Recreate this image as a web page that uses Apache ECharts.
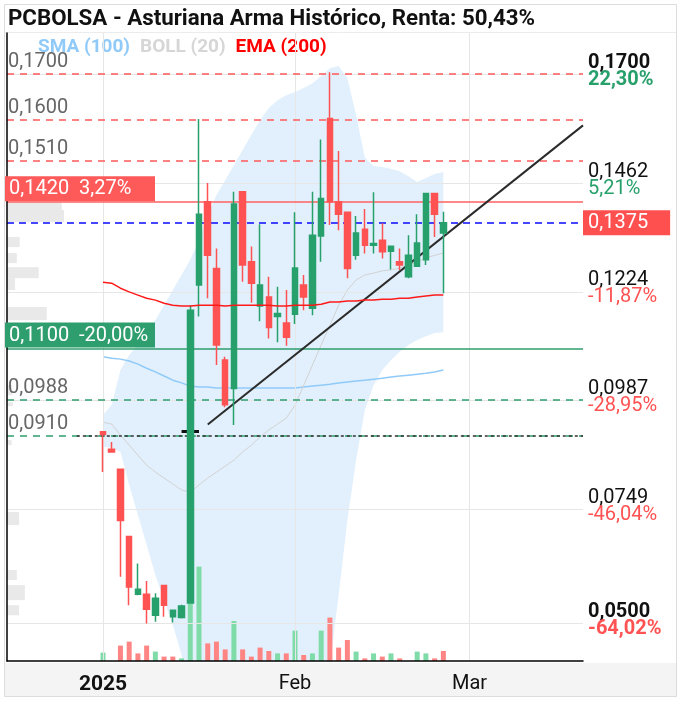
<!DOCTYPE html>
<html><head><meta charset="utf-8">
<script src="https://cdn.jsdelivr.net/npm/echarts@6/dist/echarts.min.js"></script>
<style>html,body{margin:0;padding:0;background:#fff}#c{width:681px;height:701px}</style>
</head><body><div id="c"></div>
<script>
// ---------- DATA ----------
const padBefore = ['2024-12-13','2024-12-16','2024-12-17','2024-12-18','2024-12-19','2024-12-20','2024-12-23','2024-12-24','2024-12-27','2024-12-30','2024-12-31'];
const tradingDays = ['2025-01-02','2025-01-03','2025-01-06','2025-01-07','2025-01-08','2025-01-09','2025-01-10','2025-01-13','2025-01-14','2025-01-15','2025-01-16','2025-01-17','2025-01-20','2025-01-21','2025-01-22','2025-01-23','2025-01-24','2025-01-27','2025-01-28','2025-01-29','2025-01-30','2025-01-31','2025-02-03','2025-02-04','2025-02-05','2025-02-06','2025-02-07','2025-02-10','2025-02-11','2025-02-12','2025-02-13','2025-02-14','2025-02-17','2025-02-18','2025-02-19','2025-02-20','2025-02-21','2025-02-24','2025-02-25','2025-02-26'];
const padAfter = ['2025-02-27','2025-02-28','2025-03-03','2025-03-04','2025-03-05','2025-03-06','2025-03-07','2025-03-10','2025-03-11','2025-03-12','2025-03-13','2025-03-14','2025-03-17','2025-03-18','2025-03-19','2025-03-20'];
const monthLabels = {'2025-01-02':'2025','2025-02-03':'Feb','2025-03-03':'Mar'};

const opens  = [0.0918,0.0880,0.0836,0.0689,0.0563,0.0563,0.0517,0.0582,0.0514,0.0512,0.0544,0.1239,0.1421,0.1275,0.1075,0.1013,0.1443,0.1290,0.1193,0.1213,0.1170,0.1156,0.1175,0.1239,0.1188,0.1346,0.1603,0.1421,0.1398,0.1304,0.1361,0.1326,0.1337,0.1313,0.1290,0.1257,0.1280,0.1294,0.1439,0.1353];
const closes = [0.0912,0.0874,0.0724,0.0579,0.0574,0.0530,0.0554,0.0539,0.0528,0.0537,0.1184,0.1394,0.1304,0.1108,0.0977,0.1416,0.1283,0.1243,0.1239,0.1146,0.1177,0.1125,0.1276,0.1213,0.1348,0.1428,0.1421,0.1394,0.1275,0.1353,0.1326,0.1330,0.1312,0.1324,0.1283,0.1304,0.1331,0.1439,0.1394,0.1375];
const lows   = [0.0830,0.0874,0.0601,0.0539,0.0561,0.0499,0.0503,0.0514,0.0501,0.0510,0.0544,0.1170,0.1210,0.1064,0.0972,0.0933,0.1246,0.1200,0.1160,0.1122,0.1114,0.1106,0.1154,0.1184,0.1173,0.1290,0.1370,0.1359,0.1254,0.1294,0.1308,0.1308,0.1297,0.1273,0.1272,0.1254,0.1280,0.1283,0.1344,0.1221];
const highs  = [0.0918,0.0896,0.0836,0.0690,0.0630,0.0592,0.0565,0.0582,0.0528,0.0540,0.1195,0.1602,0.1462,0.1319,0.1082,0.1443,0.1443,0.1323,0.1372,0.1257,0.1235,0.1228,0.1398,0.1261,0.1443,0.1557,0.1704,0.1532,0.1398,0.1390,0.1405,0.1442,0.1374,0.1325,0.1319,0.1348,0.1394,0.1440,0.1440,0.1399];
const volumes = [42,0,77,97,38,77,47,22,22,13,560,472,88,97,58,200,58,22,67,50,38,38,152,30,38,152,217,67,105,47,13,38,22,38,13,0,47,38,13,50];

const sma100 = [0.1082,0.1079,0.1077,0.1073,0.1066,0.1057,0.1049,0.1040,0.1031,0.1025,0.1018,0.1016,0.1016,0.1014,0.1014,0.1014,0.1014,0.1014,0.1014,0.1014,0.1014,0.1014,0.1014,0.1016,0.1018,0.1020,0.1022,0.1025,0.1027,0.1029,0.1031,0.1033,0.1035,0.1038,0.1040,0.1042,0.1044,0.1046,0.1049,0.1053];
const ema200 = [0.1245,0.1243,0.1232,0.1224,0.1217,0.1210,0.1206,0.1199,0.1195,0.1193,0.1193,0.1195,0.1195,0.1195,0.1193,0.1195,0.1195,0.1195,0.1195,0.1195,0.1193,0.1193,0.1195,0.1195,0.1195,0.1197,0.1202,0.1202,0.1204,0.1204,0.1206,0.1206,0.1208,0.1208,0.1210,0.1210,0.1213,0.1215,0.1217,0.1217];
const bollUpper = [0.0955,0.0977,0.1053,0.1086,0.1108,0.1130,0.1162,0.1195,0.1228,0.1261,0.1294,0.1337,0.1392,0.1436,0.1468,0.1501,0.1534,0.1567,0.1600,0.1626,0.1643,0.1654,0.1661,0.1670,0.1680,0.1696,0.1713,0.1718,0.1691,0.1611,0.1517,0.1499,0.1497,0.1493,0.1488,0.1477,0.1464,0.1473,0.1482,0.1486];
const bollMid = [0.0939,0.0935,0.0911,0.0889,0.0867,0.0845,0.0830,0.0817,0.0804,0.0791,0.0786,0.0802,0.0817,0.0830,0.0843,0.0856,0.0874,0.0889,0.0907,0.0922,0.0935,0.0948,0.0976,0.1020,0.1064,0.1108,0.1151,0.1195,0.1228,0.1250,0.1261,0.1265,0.1270,0.1272,0.1276,0.1283,0.1289,0.1298,0.1304,0.1309];
const bollLower = [0.0885,0.0883,0.0874,0.0802,0.0736,0.0671,0.0605,0.0550,0.0496,0.0430,0.0354,0.0300,0.0270,0.0250,0.0240,0.0220,0.0210,0.0200,0.0200,0.0210,0.0220,0.0240,0.0270,0.0310,0.0350,0.0380,0.0408,0.0561,0.0725,0.0856,0.0966,0.1020,0.1053,0.1075,0.1093,0.1108,0.1119,0.1127,0.1134,0.1136];

// volume-at-price profile: [low, high, volume]
const profileLow  = [0.1403,0.1377,0.1322,0.1287,0.1254,0.1228,0.1162,0.0998,0.0974,0.0889,0.0714,0.0594,0.0550,0.0517];
const profileHigh = [0.1420,0.1403,0.1344,0.1309,0.1278,0.1254,0.1191,0.1020,0.0983,0.0900,0.0743,0.0616,0.0583,0.0539];
const profileVol  = [95,99,22,17,55,14,69,9,10,8,21,17,31,21];

const axisValues = [0.1700,0.1462,0.1224,0.0987,0.0749,0.0500];
const axisPcts = ['22,30%','5,21%','-11,87%','-28,95%','-46,04%','-64,02%'];
const redDashedLevels = [0.1700,0.1600,0.1510];
const resistanceLevel = 0.1420, resistancePct = '3,27%';
const currentPrice = 0.1375;
const supportLevel = 0.1100, supportPct = '-20,00%';
const greenDashedLevels = [0.0988,0.0910];
const dottedLevel = 0.0910, dottedStart = '2024-12-27';
const trendStart = ['2025-01-20',0.0934], trendEnd = ['2025-03-20',0.1588];
const markerSeg = ['2025-01-15','2025-01-17',0.0920];

// ---------- BUILD ----------
const categories = padBefore.concat(tradingDays, padAfter);
const lastCat = categories[categories.length-1];
const FONT = 'Roboto';
const GREEN = '#27a06c', RED = '#ff5252';
const fmt = v => v.toFixed(4).replace('.', ',');
const pair = arr => tradingDays.map((d,i)=>[d, arr[i]]);

const candleData = tradingDays.map((d,i)=>[d, opens[i], closes[i], lows[i], highs[i]]);
const volData = tradingDays.map((d,i)=>({
  value:[d, volumes[i]],
  itemStyle:{color: (i===0 || closes[i]>=closes[i-1]) ? '#7fdca8' : '#ff8585'}
}));
const bandBase = pair(bollLower);
const bandWidth = tradingDays.map((d,i)=>[d, +(bollUpper[i]-bollLower[i]).toFixed(4)]);
const profileData = profileLow.map((l,i)=>[l, profileHigh[i], profileVol[i]]);

const noSym = ['none','none'];
const gridLines = axisValues.map((v,i)=>{
  const bold = (i===0 || i===axisValues.length-1) ? 'bold' : 'normal';
  const neg = axisPcts[i].startsWith('-');
  return {yAxis:v, lineStyle:{color:'#e6e6e6', width:1, type:'solid'},
    label:{show:true, position:'end', distance:[5,0], padding:[0,0,6,0],
      formatter:'{p|'+fmt(v)+'}\n{q|'+axisPcts[i]+'}',
      rich:{p:{fontSize:20, lineHeight:17, color:'#111', fontWeight:bold, fontFamily:FONT},
            q:{fontSize:20, lineHeight:17, color: neg ? RED : GREEN, fontWeight:bold, fontFamily:FONT}}}};
});

const leftLbl = v => ({show:true, position:'insideStartTop', distance:[1,2], formatter:fmt(v), color:'#666', fontSize:20, fontFamily:FONT});
const levelLines = [];
redDashedLevels.forEach(v=>levelLines.push({yAxis:v, lineStyle:{color:'#ff5a5a', width:1.5, type:[7,6]}, label:leftLbl(v)}));
levelLines.push({yAxis:resistanceLevel, lineStyle:{color:'#ff6262', width:1.5, type:'solid'},
  label:{show:true, position:'insideStartTop', distance:[-2,1], formatter:fmt(resistanceLevel)+'  '+resistancePct, color:'#fff', backgroundColor:'#ff5a5a', padding:[3,6,2,4], width:140, fontSize:20, lineHeight:20, fontFamily:FONT}});
levelLines.push({yAxis:supportLevel, lineStyle:{color:'#2e9e6e', width:1.5, type:'solid'},
  label:{show:true, position:'insideStartTop', distance:[-2,1], formatter:fmt(supportLevel)+'  '+supportPct, color:'#fff', backgroundColor:'#2e9e6e', padding:[3,6,2,4], width:140, fontSize:20, lineHeight:20, fontFamily:FONT}});
greenDashedLevels.forEach(v=>levelLines.push({yAxis:v, lineStyle:{color:'#2e9e6e', width:1.5, type:[7,6]}, label:leftLbl(v)}));
levelLines.push([{coord:[dottedStart, dottedLevel]},{coord:[lastCat, dottedLevel], lineStyle:{color:'#333', width:1.5, type:[3,3]}, label:{show:false}}]);
levelLines.push({yAxis:currentPrice, lineStyle:{color:'#0a0aff', width:1.5, type:[7,5]},
  label:{show:true, position:'end', distance:[0,0], formatter:fmt(currentPrice), color:'#fff', backgroundColor:'#ff5050', padding:[3,22,2,5], fontSize:20, lineHeight:20, fontFamily:FONT}});

const trendLines = [
  [{coord:trendStart},{coord:trendEnd, lineStyle:{color:'#2b2b2b', width:2, type:'solid'}, label:{show:false}}],
  [{coord:[markerSeg[0], markerSeg[2]]},{coord:[markerSeg[1], markerSeg[2]], lineStyle:{color:'#111', width:3, type:'solid'}, label:{show:false}}]
];

const option = {
  animation:false,
  backgroundColor:'#fff',
  textStyle:{fontFamily:FONT},
  title:{text:'PCBOLSA - Asturiana Arma Histórico, Renta: 50,43%', left:3, top:3,
    textStyle:{fontSize:22.3, fontWeight:'bold', color:'#111', fontFamily:FONT}},
  legend:{top:38, left:32, padding:0, itemGap:4, itemWidth:0, itemHeight:0, selectedMode:false,
    textStyle:{fontSize:19, fontWeight:'bold', fontFamily:FONT},
    data:[{name:'SMA (100)', textStyle:{color:'#90caf9'}},{name:'BOLL (20)', textStyle:{color:'#d6d6d6'}},{name:'EMA (200)', textStyle:{color:'#ff0000'}}]},
  grid:{left:7, right:98, top:33, bottom:40},
  xAxis:[{
    type:'category', data:categories, boundaryGap:false, z:5,
    axisLine:{lineStyle:{color:'#000', width:1.5}},
    axisTick:{show:false},
    axisLabel:{interval:(i,v)=>monthLabels[v]!==undefined, hideOverlap:false, margin:13,
      formatter:v=> v==='2025-01-02' ? '{b|'+monthLabels[v]+'}' : (monthLabels[v]||''),
      fontSize:20, color:'#111', fontFamily:FONT,
      rich:{b:{fontSize:21, fontWeight:'bold', color:'#111', fontFamily:FONT}}},
    splitLine:{show:true, interval:(i,v)=>monthLabels[v]!==undefined, lineStyle:{color:'#e6e6e6', width:1}}
  },{
    type:'value', min:0, max:1000, show:false
  }],
  yAxis:[{
    type:'value', position:'right', min:0.0417, max:0.1790, z:5,
    axisLine:{show:true, lineStyle:{color:'#000', width:1.5}},
    axisTick:{show:false}, axisLabel:{show:false}, splitLine:{show:false}
  },{
    type:'value', min:0, max:3140, show:false, splitLine:{show:false}
  }],
  graphic:[
    {type:'rect', z:-5, silent:true, shape:{x:5, y:663, width:672, height:34}, style:{fill:'#f4f4f4'}},
    {type:'line', z:-5, silent:true, shape:{x1:5, y1:32.5, x2:676, y2:32.5}, style:{stroke:'#ececec', lineWidth:1}},
    {type:'rect', z:50, silent:true, shape:{x:4.5, y:4.5, width:672, height:692}, style:{fill:null, stroke:'#dcdcdc', lineWidth:1}}
  ],
  series:[
    {name:'bandBase', type:'line', stack:'boll', data:bandBase, symbol:'none', lineStyle:{opacity:0}, z:0, silent:true},
    {name:'bandFill', type:'line', stack:'boll', data:bandWidth, symbol:'none', lineStyle:{opacity:0}, areaStyle:{color:'#e1f0fc', opacity:1}, z:0, silent:true},
    {name:'profile', type:'custom', xAxisIndex:1, yAxisIndex:0, data:profileData, z:1, silent:true,
      encode:{x:2, y:[0,1]},
      renderItem:(params, api)=>{
        const p1 = api.coord([0, api.value(1)]);
        const p2 = api.coord([api.value(2), api.value(0)]);
        return {type:'rect', shape:{x:p1[0], y:p1[1], width:p2[0]-p1[0], height:p2[1]-p1[1]}, style:{fill:'#e9e9e9'}};
      }},
    {name:'grid', type:'line', data:[], z:1, markLine:{symbol:noSym, precision:4, silent:true, animation:false, data:gridLines}},
    {name:'volume', type:'bar', xAxisIndex:0, yAxisIndex:1, data:volData, barWidth:5, z:2, silent:true},
    {name:'SMA (100)', type:'line', data:pair(sma100), symbol:'none', lineStyle:{color:'#90caf9', width:1.5}, itemStyle:{color:'#90caf9'}, z:3},
    {name:'BOLL (20)', type:'line', data:pair(bollMid), symbol:'none', lineStyle:{color:'#d2d2d2', width:1}, itemStyle:{color:'#d2d2d2'}, z:3},
    {name:'levels', type:'line', data:[], z:4, markLine:{symbol:noSym, precision:4, silent:true, animation:false, data:levelLines}},
    {name:'price', type:'candlestick', data:candleData, encode:{x:0, y:[1,2,3,4]}, barWidth:6, z:5,
      itemStyle:{color:GREEN, color0:RED, borderColor:GREEN, borderColor0:RED, borderWidth:1.5}},
    {name:'EMA (200)', type:'line', data:pair(ema200), symbol:'none', lineStyle:{color:'#ff1a1a', width:1.5}, itemStyle:{color:'#ff0000'}, z:6},
    {name:'trend', type:'line', data:[], z:7, markLine:{symbol:noSym, precision:4, silent:true, animation:false, data:trendLines}}
  ]
};
const chart = echarts.init(document.getElementById('c'), null, {renderer:'canvas', devicePixelRatio:1});
chart.setOption(option);
</script>
</body></html>
